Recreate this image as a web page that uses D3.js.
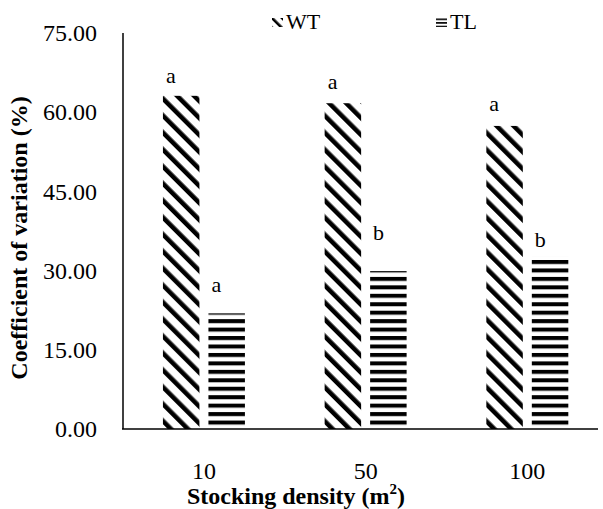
<!DOCTYPE html>
<html>
<head>
<meta charset="utf-8">
<script src="https://cdn.jsdelivr.net/npm/d3@7"></script>
<style>
  body { margin: 0; background: #fff; }
  text { font-family: "Liberation Serif", "Times New Roman", serif; fill: #000; }
</style>
</head>
<body>
<svg id="chart" width="603" height="509"></svg>
<script>
// stocking densities and the two series
var densities = ["10", "50", "100"];
var series = ["WT", "TL"];
var wtValues = [63.1, 61.7, 57.4];
var tlValues = [21.9, 29.9, 32.6];
// significance letters and the height (in % units) they sit at
var wtLetters = ["a", "a", "a"];
var tlLetters = ["a", "b", "b"];
var wtLetterAt = [65.5, 64.4, 60.2];
var tlLetterAt = [25.9, 35.8, 34.4];
var yTicks = [0, 15, 30, 45, 60, 75];

var svg = d3.select("#chart");

var defs = svg.append("defs");
function diag(id, size, w) {
  var p = defs.append("pattern")
      .attr("id", id)
      .attr("patternUnits", "userSpaceOnUse")
      .attr("width", size).attr("height", size)
      .attr("patternTransform", "rotate(-45)");
  p.append("rect").attr("width", size).attr("height", size).attr("fill", "#fff");
  p.append("rect").attr("width", w).attr("height", size).attr("fill", "#000");
}
function horiz(id, size, w, y0) {
  var p = defs.append("pattern")
      .attr("id", id)
      .attr("patternUnits", "userSpaceOnUse")
      .attr("width", 8).attr("height", size)
      .attr("y", y0);
  p.append("rect").attr("width", 8).attr("height", size).attr("fill", "#fff");
  p.append("rect").attr("width", 8).attr("height", w).attr("fill", "#000");
}
diag("diag", 12, 4.6);
horiz("horiz", 8.45, 4, 429);
diag("diagS", 7, 2.6);
horiz("horizS", 3.6, 1.6, 0.5);

var fills = { WT: "url(#diag)", TL: "url(#horiz)" };
var swatches = { WT: "url(#diagS)", TL: "url(#horizS)" };

var y = d3.scaleLinear().domain([0, 75]).range([429, 33]);
var x0 = d3.scaleBand().domain(densities).range([123, 608.25])
    .paddingInner(0.493).paddingOuter(0.247);
var x1 = d3.scaleBand().domain(series).range([0, x0.bandwidth()]).paddingInner(0.198);

var rows = densities.map(function (d, i) {
  return { d: d, vals: [
    { s: "WT", v: wtValues[i], l: wtLetters[i], la: wtLetterAt[i] },
    { s: "TL", v: tlValues[i], l: tlLetters[i], la: tlLetterAt[i] }
  ] };
});

var g = svg.selectAll("g.grp").data(rows).enter().append("g")
    .attr("class", "grp")
    .attr("transform", function (r) { return "translate(" + x0(r.d) + ",0)"; });

g.selectAll("rect").data(function (r) { return r.vals; }).enter().append("rect")
    .attr("x", function (b) { return x1(b.s); })
    .attr("y", function (b) { return y(b.v); })
    .attr("width", x1.bandwidth())
    .attr("height", function (b) { return y(0) - y(b.v); })
    .attr("fill", function (b) { return fills[b.s]; });

g.selectAll("text.lt").data(function (r) { return r.vals; }).enter().append("text")
    .attr("class", "lt")
    .attr("x", function (b) { return x1(b.s) + 3; })
    .attr("y", function (b) { return y(b.la); })
    .attr("font-size", 22)
    .text(function (b) { return b.l; });

// axes
var yAxis = d3.axisLeft(y).tickValues(yTicks).tickSize(0).tickPadding(26)
    .tickFormat(d3.format(".2f"));
var ya = svg.append("g").attr("transform", "translate(123,0)").call(yAxis);
ya.select(".domain").remove();
ya.selectAll("text").attr("font-size", 24).attr("font-family", "Liberation Serif");

svg.append("line").attr("x1", 123).attr("x2", 123).attr("y1", 33).attr("y2", 429)
    .attr("stroke", "#000").attr("stroke-width", 1.5);

var xAxis = d3.axisBottom(x0).tickSize(0).tickPadding(33);
var xa = svg.append("g").attr("transform", "translate(0,429)").call(xAxis);
xa.select(".domain").remove();
xa.selectAll("text").attr("font-size", 24).attr("font-family", "Liberation Serif");

svg.append("line").attr("x1", 122).attr("x2", 598).attr("y1", 429).attr("y2", 429)
    .attr("stroke", "#000").attr("stroke-width", 1.5);

// titles
svg.append("text")
    .attr("transform", "translate(27,238) rotate(-90)")
    .attr("text-anchor", "middle")
    .attr("font-size", 24).attr("font-weight", "bold")
    .text("Coefficient of variation (%)");

var xt = svg.append("text")
    .attr("x", 296).attr("y", 504)
    .attr("text-anchor", "middle")
    .attr("font-size", 24).attr("font-weight", "bold");
xt.append("tspan").text("Stocking density (m");
xt.append("tspan").attr("font-size", 15).attr("dy", -10).text("2");
xt.append("tspan").attr("dy", 10).text(")");

// legend
var legX = [272, 436];
var leg = svg.selectAll("g.leg").data(series).enter().append("g")
    .attr("class", "leg")
    .attr("transform", function (s, i) { return "translate(" + legX[i] + ",0)"; });
leg.append("rect").attr("x", 0).attr("y", 18).attr("width", 11).attr("height", 9)
    .attr("fill", function (s) { return swatches[s]; });
leg.append("text").attr("x", 14).attr("y", 29).attr("font-size", 22)
    .text(function (s) { return s; });
</script>
</body>
</html>
